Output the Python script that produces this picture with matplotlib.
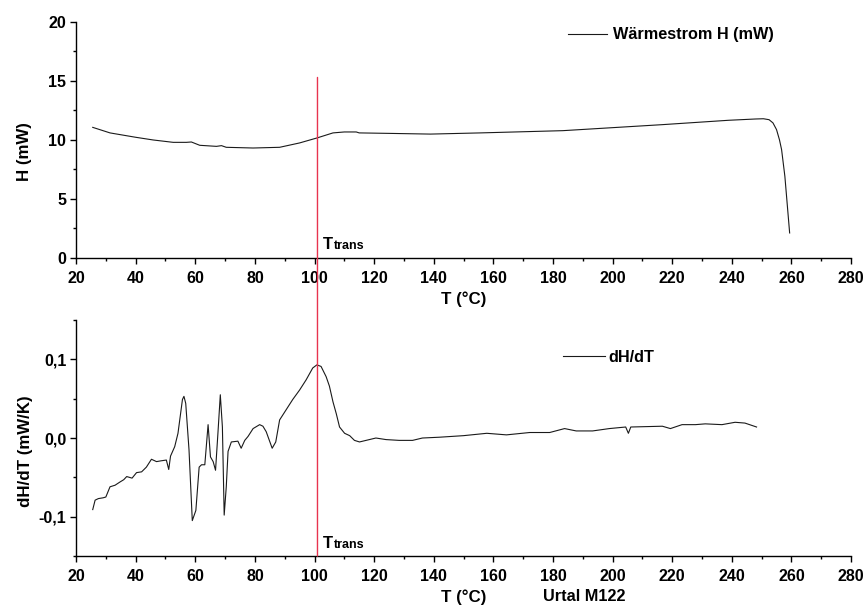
import matplotlib
matplotlib.use("Agg")
import matplotlib.pyplot as plt
from matplotlib.patches import ConnectionPatch
from matplotlib.transforms import offset_copy
from matplotlib.ticker import MultipleLocator, FuncFormatter

plt.rcParams['font.family'] = ['Liberation Sans', 'DejaVu Sans']
plt.rcParams['font.weight'] = 'bold'
plt.rcParams['axes.labelweight'] = 'bold'

# Heat flow H (mW) versus temperature
t_heat = [25.6, 31.4, 40.0, 45.9, 52.6, 57.0, 58.7, 61.5, 67.1, 68.8, 70.4,
          79.4, 88.3, 95.0, 100.8, 106.2, 110.0, 114.0, 115.0, 125.0, 138.9,
          155.6, 183.3, 216.7, 238.9, 248.0, 250.6, 252.5, 253.8, 255.0,
          256.0, 256.7, 257.8, 259.4]
h_heat = [11.07, 10.6, 10.23, 10.0, 9.8, 9.8, 9.83, 9.55, 9.46, 9.52, 9.38,
          9.32, 9.38, 9.75, 10.17, 10.6, 10.68, 10.68, 10.6, 10.56, 10.5,
          10.6, 10.79, 11.3, 11.67, 11.78, 11.8, 11.72, 11.45, 10.88,
          10.0, 9.18, 6.92, 2.12]

# Derivative dH/dT (mW/K) versus temperature
t_deriv = [25.6, 26.4, 27.5, 29.1, 30.0, 31.4, 33.1, 34.7, 36.0, 37.0, 38.8,
           40.3, 42.0, 43.6, 45.3, 47.0, 48.5, 50.3, 51.1, 51.7, 53.1, 54.2,
           55.7, 56.2, 56.8, 57.9, 59.0, 60.2, 61.3, 62.1, 63.2, 64.3, 65.1,
           66.0, 66.8, 67.6, 68.4, 69.1, 69.7, 70.4, 71.0, 72.1, 74.3, 75.4,
           76.6, 77.7, 79.4, 81.6, 82.7, 83.8, 85.8, 87.0, 88.3, 90.5, 92.7,
           95.0, 97.2, 99.4, 100.8, 102.2, 103.9, 105.0, 106.2, 107.3, 108.4,
           110.1, 111.8, 113.4, 115.1, 117.3, 120.6, 124.0, 128.4, 132.9,
           136.2, 141.8, 150.0, 157.8, 164.4, 172.2, 178.9, 183.9, 187.8,
           193.3, 198.9, 204.4, 205.3, 206.1, 216.7, 219.4, 223.3, 227.8,
           231.1, 236.7, 241.1, 244.4, 248.3]
d_deriv = [-0.091, -0.079, -0.077, -0.076, -0.075, -0.062, -0.060, -0.056,
           -0.053, -0.049, -0.051, -0.044, -0.043, -0.037, -0.027, -0.030,
           -0.029, -0.028, -0.040, -0.023, -0.011, 0.006, 0.049, 0.053, 0.044,
           -0.015, -0.105, -0.092, -0.037, -0.034, -0.034, 0.017, -0.024,
           -0.030, -0.041, 0.006, 0.055, 0.014, -0.098, -0.062, -0.017,
           -0.005, -0.004, -0.013, -0.003, 0.002, 0.012, 0.017, 0.015, 0.008,
           -0.013, -0.005, 0.023, 0.036, 0.049, 0.061, 0.074, 0.089, 0.093,
           0.091, 0.078, 0.066, 0.046, 0.031, 0.014, 0.006, 0.003, -0.003,
           -0.005, -0.003, 0.000, -0.002, -0.003, -0.003, 0.000, 0.001, 0.003,
           0.006, 0.004, 0.007, 0.007, 0.012, 0.009, 0.009, 0.012, 0.014,
           0.006, 0.014, 0.015, 0.012, 0.017, 0.017, 0.018, 0.017, 0.020,
           0.019, 0.014]

t_trans = 101.0
x_ticks = [20, 40, 60, 80, 100, 120, 140, 160, 180, 200, 220, 240, 260, 280]

TICK_FS = 11.5
LABEL_FS = 12.2
LEGEND_FS = 11.7
line_col = '#1a1a1a'
red = '#e8334f'

fig = plt.figure(figsize=(8.67, 6.06), dpi=100)
ax1 = fig.add_axes([0.0877, 0.5743, 0.8939, 0.3894])
ax2 = fig.add_axes([0.0877, 0.0825, 0.8939, 0.3894])

for ax in (ax1, ax2):
    ax.spines['top'].set_visible(False)
    ax.spines['right'].set_visible(False)
    ax.spines['left'].set_linewidth(1.0)
    ax.spines['bottom'].set_linewidth(1.0)
    ax.set_xlim(20, 280)
    ax.set_xticks(x_ticks)
    ax.xaxis.set_minor_locator(MultipleLocator(10))
    ax.tick_params(which='major', direction='out', length=4, width=1.0,
                   labelsize=TICK_FS)
    ax.tick_params(which='minor', direction='out', length=2.5, width=1.0)
    ax.tick_params(axis='x', which='major', pad=5.3)
    ax.tick_params(axis='y', which='major', pad=3)
    ax.set_xlabel('T (°C)', fontsize=LABEL_FS)
    ax.xaxis.set_label_coords(0.5, -0.140)


def trans_label(ax, y):
    """Write T_trans next to the transition line, subscript on the same baseline."""
    ax.text(102.96, y, 'T', fontsize=12, va='baseline')
    shifted = offset_copy(ax.transData, fig=fig, x=7.6, y=0, units='points')
    ax.text(102.96, y, 'trans', fontsize=9.0, va='baseline', transform=shifted)


# Upper panel: heat flow
ax1.plot(t_heat, h_heat, color=line_col, lw=0.8, label='Wärmestrom H (mW)')
ax1.set_ylim(0, 20)
ax1.set_yticks([0, 5, 10, 15, 20])
ax1.yaxis.set_minor_locator(MultipleLocator(2.5))
ax1.set_ylabel('H (mW)', fontsize=LABEL_FS)
ax1.yaxis.set_label_coords(-0.0564, 0.449)
ax1.legend(loc='center left', bbox_to_anchor=(568 / 867, 1 - 35 / 606),
           bbox_transform=fig.transFigure, frameon=False, fontsize=LEGEND_FS,
           handlelength=2.4, handletextpad=0.35, borderpad=0,
           borderaxespad=0)
trans_label(ax1, 0.74)

# Lower panel: derivative
ax2.plot(t_deriv, d_deriv, color=line_col, lw=0.8, label='dH/dT')
ax2.set_ylim(-0.15, 0.15)
ax2.set_yticks([-0.1, 0.0, 0.1])
ax2.yaxis.set_minor_locator(MultipleLocator(0.05))
ax2.yaxis.set_major_formatter(
    FuncFormatter(lambda v, p: f'{v:.1f}'.replace('.', ',').replace('-0,0', '0,0')))
ax2.set_ylabel('dH/dT (mW/K)', fontsize=LABEL_FS)
ax2.yaxis.set_label_coords(-0.0555, 0.443)
ax2.legend(loc='center left', bbox_to_anchor=(563 / 867, 1 - 357 / 606),
           bbox_transform=fig.transFigure, frameon=False, fontsize=LEGEND_FS,
           handlelength=2.6, handletextpad=0.2, borderpad=0,
           borderaxespad=0)
trans_label(ax2, -0.1401)

# Transition temperature marker spanning both panels
con = ConnectionPatch(xyA=(t_trans, 15.3), coordsA=ax1.transData,
                      xyB=(t_trans, -0.15), coordsB=ax2.transData,
                      color=red, lw=1.0)
fig.add_artist(con)

fig.text(543 / 867, 1 - 601 / 606, 'Urtal M122', fontsize=LEGEND_FS,
         va='baseline')

fig.savefig('out.png', dpi=100, facecolor='white')
